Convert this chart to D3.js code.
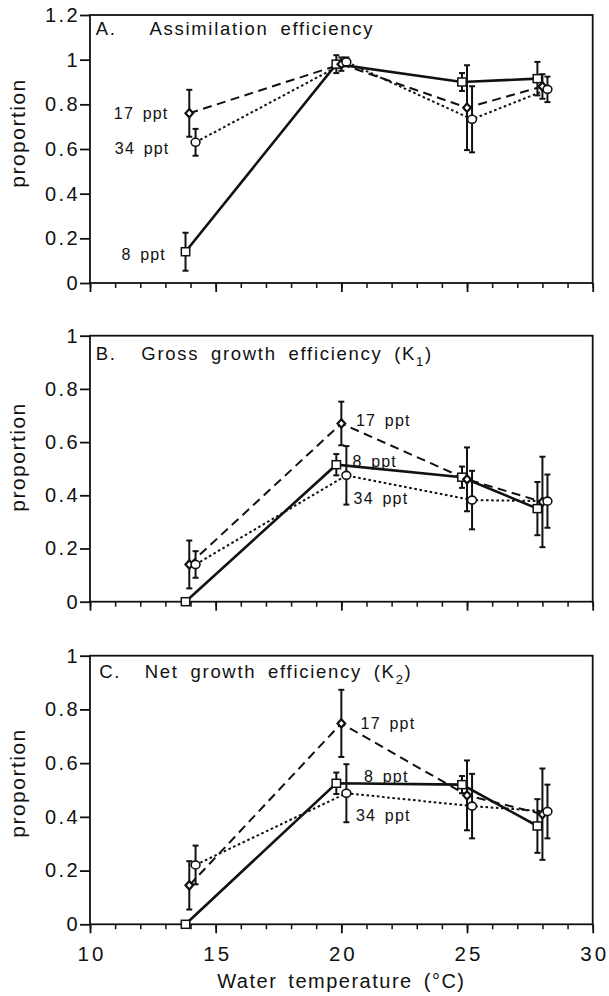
<!DOCTYPE html>
<html><head><meta charset="utf-8">
<script src="https://cdn.jsdelivr.net/npm/d3@7"></script>
<style>
body{margin:0;background:#fff;}
text{font-family:"Liberation Sans",Arial,Helvetica,sans-serif;fill:#111;}
</style></head>
<body><svg id="c" width="609" height="996"></svg>
<script>
// ---- data ----
const seriesNames = ["8 ppt", "17 ppt", "34 ppt"];
const x8  = [13.8, 19.8, 24.8, 27.8];
const x17 = [13.95, 20.0, 25.0, 28.0];
const x34 = [14.2, 20.2, 25.2, 28.2];

// A. Assimilation efficiency
const assim8  = [0.14, 0.98, 0.90, 0.915];
const assim8E = [0.085, 0.04, 0.04, 0.075];
const assim17  = [0.76, 0.98, 0.785, 0.88];
const assim17E = [0.105, 0.03, 0.19, 0.055];
const assim34  = [0.63, 0.99, 0.733, 0.867];
const assim34E = [0.06, 0.02, 0.148, 0.057];

// B. Gross growth efficiency (K1)
const gross8  = [0.0, 0.515, 0.468, 0.35];
const gross8E = [0, 0.04, 0.04, 0.1];
const gross17  = [0.14, 0.67, 0.46, 0.375];
const gross17E = [0.09, 0.082, 0.12, 0.17];
const gross34  = [0.14, 0.475, 0.382, 0.378];
const gross34E = [0.05, 0.11, 0.11, 0.1];

// C. Net growth efficiency (K2)
const net8  = [0.0, 0.525, 0.52, 0.366];
const net8E = [0, 0.04, 0.032, 0.1];
const net17  = [0.145, 0.748, 0.48, 0.41];
const net17E = [0.09, 0.125, 0.13, 0.17];
const net34  = [0.221, 0.488, 0.44, 0.42];
const net34E = [0.072, 0.108, 0.12, 0.1];

const xMajorTicks = [10, 15, 20, 25, 30];
const xMinorTicks = d3.range(10, 31, 1);
const yTicksA = [0, 0.2, 0.4, 0.6, 0.8, 1, 1.2];
const yLabelsA = ["0", "0.2", "0.4", "0.6", "0.8", "1", "1.2"];
const yTicksBC = [0, 0.2, 0.4, 0.6, 0.8, 1];
const yLabelsBC = ["0", "0.2", "0.4", "0.6", "0.8", "1"];

// ---- layout ----
const svg = d3.select("#c");
const x = d3.scaleLinear().domain([10, 30]).range([90, 592.7]);
const FONT = '"Liberation Sans",Arial,Helvetica,sans-serif';

const styles = [
  {dash: null, width: 2.6, marker: "square"},
  {dash: "9,5.5", width: 2, marker: "diamond"},
  {dash: "2.6,2.6", width: 2, marker: "circle"}
];

const panels = [
  {top: 15, bottom: 283, max: 1.2, ticks: yTicksA, labels: yLabelsA,
   letter: "A.", title: ["Assimilation efficiency"], sub: null, titleY: 35, letterX: 95.8, titleX: 149.5,
   xs: [x8, x17, x34], ys: [assim8, assim17, assim34], es: [assim8E, assim17E, assim34E],
   lab: [{t: "8 ppt", x: 166, y: 254, a: "end"}, {t: "17 ppt", x: 168.5, y: 113, a: "end"}, {t: "34 ppt", x: 169.5, y: 148, a: "end"}],
   xlabels: false, ytitle: 133},
  {top: 335.7, bottom: 601.7, max: 1, ticks: yTicksBC, labels: yLabelsBC,
   letter: "B.", title: ["Gross growth efficiency (K", ")"], sub: "1", titleY: 360, letterX: 95.8, titleX: 141.3,
   xs: [x8, x17, x34], ys: [gross8, gross17, gross34], es: [gross8E, gross17E, gross34E],
   lab: [{t: "8 ppt", x: 352.4, y: 461.7, a: "start"}, {t: "17 ppt", x: 356, y: 420.7, a: "start"}, {t: "34 ppt", x: 353.6, y: 498.3, a: "start"}],
   xlabels: false, ytitle: 457},
  {top: 655.7, bottom: 924.3, max: 1, ticks: yTicksBC, labels: yLabelsBC,
   letter: "C.", title: ["Net growth efficiency (K", ")"], sub: "2", titleY: 678.3, letterX: 99.3, titleX: 144.8,
   xs: [x8, x17, x34], ys: [net8, net17, net34], es: [net8E, net17E, net34E],
   lab: [{t: "8 ppt", x: 364, y: 776, a: "start"}, {t: "17 ppt", x: 360.6, y: 723.3, a: "start"}, {t: "34 ppt", x: 356, y: 815.3, a: "start"}],
   xlabels: true, ytitle: 783}
];

panels.forEach(p => {
  const y = d3.scaleLinear().domain([0, p.max]).range([p.bottom, p.top]);
  const g = svg.append("g");

  // y axis
  const ya = g.append("g").attr("transform", `translate(${x(10)},0)`)
    .call(d3.axisLeft(y).tickValues(p.ticks).tickFormat((d, i) => p.labels[i]).tickSize(10).tickPadding(0));
  ya.select(".domain").remove();
  ya.selectAll("line").attr("stroke", "#111").attr("stroke-width", 1.8);
  ya.selectAll("text").attr("font-size", 20).attr("fill", "#111").attr("letter-spacing", 2.4)
    .style("font-family", FONT);

  // x axis minor
  const xmin = g.append("g").attr("transform", `translate(0,${p.bottom})`)
    .call(d3.axisBottom(x).tickValues(xMinorTicks).tickFormat("").tickSize(5));
  xmin.select(".domain").remove();
  xmin.selectAll("line").attr("stroke", "#111").attr("stroke-width", 1.5);
  // x axis major
  const xmaj = g.append("g").attr("transform", `translate(0,${p.bottom})`)
    .call(d3.axisBottom(x).tickValues(xMajorTicks).tickFormat(p.xlabels ? d3.format("d") : "").tickSize(9).tickPadding(13.4));
  xmaj.select(".domain").remove();
  xmaj.selectAll("line").attr("stroke", "#111").attr("stroke-width", 1.8);
  xmaj.selectAll("text").attr("font-size", 20.5).attr("fill", "#111").attr("letter-spacing", 3)
    .attr("dx", 1.5).style("font-family", FONT);

  // frame
  g.append("rect").attr("x", x(10)).attr("y", p.top)
    .attr("width", x(30) - x(10)).attr("height", p.bottom - p.top)
    .attr("fill", "none").attr("stroke", "#111").attr("stroke-width", 1.8);

  // y title
  g.append("text").attr("transform", `translate(17,${p.ytitle}) rotate(-90)`)
    .attr("text-anchor", "middle").attr("dominant-baseline", "central")
    .attr("font-size", 21).attr("letter-spacing", 1.5).text("proportion");

  // panel title
  g.append("text").attr("x", p.letterX).attr("y", p.titleY).attr("font-size", 18.5)
    .attr("letter-spacing", 1.7).text(p.letter);
  const tt = g.append("text").attr("x", p.titleX).attr("y", p.titleY).attr("font-size", 18.5)
    .attr("letter-spacing", 1.7).attr("word-spacing", 5);
  tt.append("tspan").text(p.title[0]);
  if (p.sub) {
    tt.append("tspan").attr("font-size", 13).attr("dy", 6).text(p.sub);
    tt.append("tspan").attr("dy", -6).text(p.title[1]);
  }

  const line = d3.line().x(d => x(d[0])).y(d => y(d[1]));

  // lines
  p.xs.forEach((xs, si) => {
    const pts = xs.map((v, i) => [v, p.ys[si][i]]);
    g.append("path").attr("d", line(pts)).attr("fill", "none").attr("stroke", "#111")
      .attr("stroke-width", styles[si].width)
      .attr("stroke-dasharray", styles[si].dash);
  });

  // error bars
  p.xs.forEach((xs, si) => {
    xs.forEach((v, i) => {
      const e = p.es[si][i];
      if (!e) return;
      const cx = x(v), y1 = y(p.ys[si][i] + e), y2 = y(p.ys[si][i] - e);
      g.append("line").attr("x1", cx).attr("x2", cx).attr("y1", y1).attr("y2", y2)
        .attr("stroke", "#111").attr("stroke-width", 2);
      [y1, y2].forEach(yy => g.append("line").attr("x1", cx - 3).attr("x2", cx + 3)
        .attr("y1", yy).attr("y2", yy).attr("stroke", "#111").attr("stroke-width", 2));
    });
  });

  // markers
  p.xs.forEach((xs, si) => {
    xs.forEach((v, i) => {
      const cx = x(v), cy = y(p.ys[si][i]);
      const m = styles[si].marker;
      if (m === "square") {
        g.append("rect").attr("x", cx - 4.2).attr("y", cy - 4).attr("width", 8.4).attr("height", 8)
          .attr("fill", "#fff").attr("stroke", "#111").attr("stroke-width", 1.5);
      } else if (m === "circle") {
        g.append("ellipse").attr("cx", cx).attr("cy", cy).attr("rx", 4.4).attr("ry", 4)
          .attr("fill", "#fff").attr("stroke", "#111").attr("stroke-width", 1.6);
      } else {
        g.append("path").attr("d", `M${cx},${cy - 4.2}L${cx + 3.8},${cy}L${cx},${cy + 4.2}L${cx - 3.8},${cy}Z`)
          .attr("fill", "#fff").attr("stroke", "#111").attr("stroke-width", 2.2);
      }
    });
  });

  // series labels
  p.lab.forEach(l => {
    g.append("text").attr("x", l.x).attr("y", l.y).attr("dominant-baseline", "central")
      .attr("text-anchor", l.a).attr("font-size", 16).attr("letter-spacing", 1.2)
      .attr("word-spacing", 3).text(l.t);
  });
});

// x title
svg.append("text").attr("x", x(20)).attr("y", 988).attr("text-anchor", "middle")
  .attr("font-size", 20).attr("letter-spacing", 1.5).attr("word-spacing", 4)
  .text("Water temperature (°C)");
</script>
</body></html>
